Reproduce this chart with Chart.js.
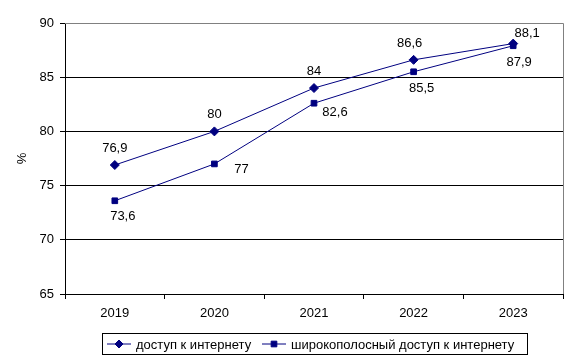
<!DOCTYPE html>
<html>
<head>
<meta charset="utf-8">
<script src="https://cdn.jsdelivr.net/npm/chart.js@4/dist/chart.umd.min.js"></script>
<style>
  html, body { margin: 0; padding: 0; background: #fff; }
  #wrap { width: 576px; height: 363px; }
</style>
</head>
<body>
<div id="wrap"><canvas id="chart" width="576" height="363"></canvas></div>
<script>
// data
const years = ['2019', '2020', '2021', '2022', '2023'];
const internetAccess = [76.9, 80, 84, 86.6, 88.1];
const broadbandAccess = [73.6, 77, 82.6, 85.5, 87.9];
const seriesNames = ['доступ к интернету', 'широкополосный доступ к интернету'];
const yTicks = [65, 70, 75, 80, 85, 90];

const navy = '#000080';
const font = { family: 'Liberation Sans, Arial, sans-serif', size: 13 };

// label placement tweaks (dx, dy from point)
const labelOffsets = [
  [[0, -17], [0, -17], [0, -17], [-4, -16], [14, -10]],
  [[8, 16], [27, 6], [21, 9], [8, 17], [6, 17]]
];

const fmt = v => String(v).replace('.', ',');

const extras = {
  id: 'extras',
  afterDatasetsDraw(chart) {
    const ctx = chart.ctx;
    const area = chart.chartArea;
    ctx.save();
    // gray frame top/right
    ctx.strokeStyle = '#808080';
    ctx.lineWidth = 1;
    ctx.beginPath();
    ctx.moveTo(area.left, area.top + 0.5);
    ctx.lineTo(area.right + 0.5, area.top + 0.5);
    ctx.lineTo(area.right + 0.5, area.bottom);
    ctx.stroke();

    // value labels
    ctx.fillStyle = '#000';
    ctx.font = font.size + 'px ' + font.family;
    ctx.textAlign = 'center';
    ctx.textBaseline = 'middle';
    chart.data.datasets.forEach((ds, di) => {
      chart.getDatasetMeta(di).data.forEach((pt, i) => {
        const off = labelOffsets[di][i];
        ctx.fillText(fmt(ds.data[i]), pt.x + off[0], pt.y + off[1]);
      });
    });

    // legend
    const lx = 102.5, ly = 333.5, lw = 425, lh = 21;
    ctx.strokeStyle = '#000';
    ctx.strokeRect(lx, ly, lw, lh);
    const cy = ly + lh / 2;
    const items = [
      { x: 107, style: 'rectRot', name: seriesNames[0] },
      { x: 262, style: 'rect', name: seriesNames[1] }
    ];
    items.forEach(it => {
      ctx.strokeStyle = navy;
      ctx.lineWidth = 1;
      ctx.beginPath();
      ctx.moveTo(it.x, cy);
      ctx.lineTo(it.x + 24, cy);
      ctx.stroke();
      ctx.fillStyle = navy;
      Chart.helpers.drawPoint(ctx, { pointStyle: it.style, radius: 4, borderWidth: 1 }, it.x + 12, cy);
      ctx.fillStyle = '#000';
      ctx.textAlign = 'left';
      ctx.fillText(it.name, it.x + 29, cy + 1);
    });
    ctx.restore();
  }
};

new Chart(document.getElementById('chart'), {
  type: 'line',
  data: {
    labels: years,
    datasets: [
      {
        label: seriesNames[0],
        data: internetAccess,
        borderColor: navy,
        backgroundColor: navy,
        borderWidth: 1,
        pointStyle: 'rectRot',
        pointRadius: 4.5,
        pointBorderWidth: 1,
        tension: 0
      },
      {
        label: seriesNames[1],
        data: broadbandAccess,
        borderColor: navy,
        backgroundColor: navy,
        borderWidth: 1,
        pointStyle: 'rect',
        pointRadius: 4,
        pointBorderWidth: 1,
        tension: 0
      }
    ]
  },
  options: {
    responsive: false,
    animation: false,
    layout: { padding: { left: 0, right: 13, top: 23, bottom: 0 } },
    plugins: {
      legend: { display: false },
      tooltip: { enabled: false }
    },
    scales: {
      x: {
        offset: true,
        afterFit(scale) { scale.height = 69; },
        grid: {
          offset: true,
          drawOnChartArea: false,
          color: '#000',
          tickLength: 5,
          tickColor: '#000'
        },
        border: { color: '#000', width: 1 },
        ticks: { color: '#000', font: font, padding: 7, maxRotation: 0 }
      },
      y: {
        min: 65,
        max: 90,
        afterFit(scale) { scale.width = 65; },
        afterBuildTicks(scale) { scale.ticks = yTicks.map(v => ({ value: v })); },
        grid: {
          color: ctx => ctx.tick && ctx.tick.value === 90 ? '#808080' : '#000',
          tickColor: '#000',
          tickLength: 5
        },
        border: { color: '#000', width: 1 },
        ticks: { color: '#000', font: font, padding: 6 },
        title: { display: true, text: '%', color: '#000', font: font, padding: { top: 15, bottom: 0 } }
      }
    }
  },
  plugins: [extras]
});
</script>
</body>
</html>
